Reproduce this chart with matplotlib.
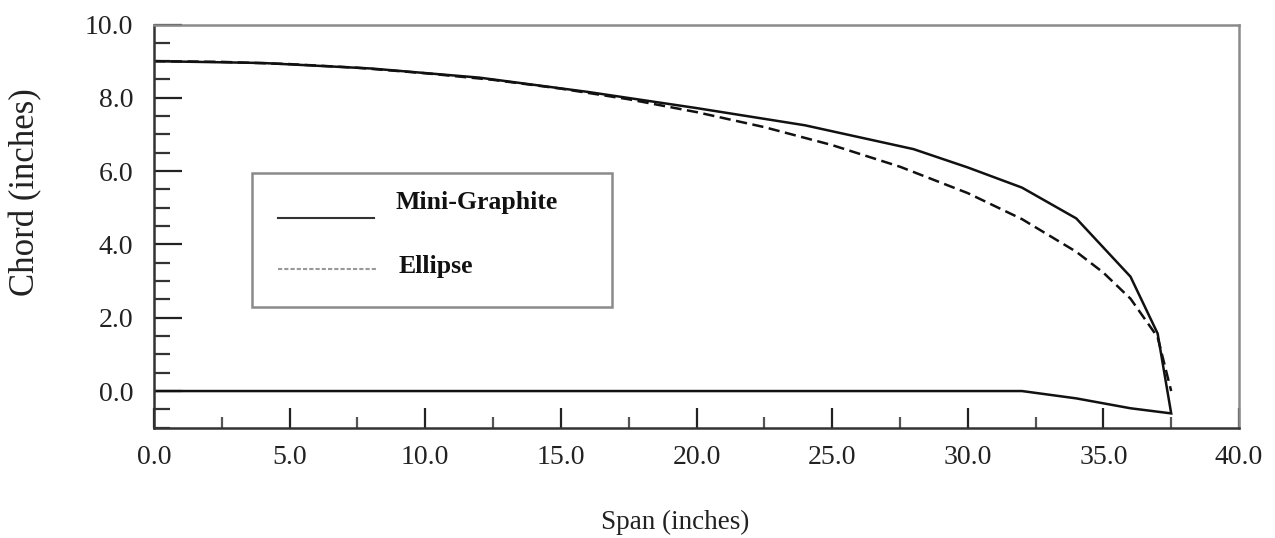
import matplotlib
matplotlib.use("Agg")
import matplotlib.pyplot as plt
from matplotlib.patches import Rectangle
from matplotlib.lines import Line2D
from matplotlib.ticker import MultipleLocator, FormatStrFormatter

# ---- data ----
series_names = ["Mini-Graphite", "Ellipse"]

# Mini-Graphite planform outline: trailing edge (upper) then leading edge (lower) back to root
mg_upper_span = [0.0, 4.0, 8.0, 12.0, 16.0, 20.0, 24.0, 28.0, 30.0, 32.0, 34.0, 36.0, 37.0, 37.5]
mg_upper_chord = [9.0, 8.95, 8.80, 8.55, 8.16, 7.72, 7.25, 6.60, 6.10, 5.55, 4.71, 3.12, 1.57, -0.61]
mg_lower_span = [37.5, 36.0, 34.0, 32.0, 0.0]
mg_lower_chord = [-0.61, -0.47, -0.20, 0.0, 0.0]

ell_span = [0.0, 2.5, 5.0, 7.5, 10.0, 12.5, 15.0, 17.5, 20.0, 22.5, 25.0, 27.5,
            30.0, 32.0, 34.0, 35.0, 36.0, 37.0, 37.5]
ell_chord = [9.00, 8.98, 8.92, 8.82, 8.67, 8.49, 8.25, 7.96, 7.61, 7.20, 6.71, 6.12,
             5.40, 4.69, 3.80, 3.23, 2.52, 1.47, 0.0]

x_ticks = [0.0, 5.0, 10.0, 15.0, 20.0, 25.0, 30.0, 35.0, 40.0]
y_ticks = [0.0, 2.0, 4.0, 6.0, 8.0, 10.0]

plt.rcParams['font.family'] = ['Liberation Serif', 'DejaVu Serif']

W, H = 1275, 538
fig = plt.figure(figsize=(W / 100, H / 100), dpi=100)
L, R, T, B = 154, 1239, 24.5, 427.7
ax = fig.add_axes([L / W, 1 - B / H, (R - L) / W, (B - T) / H])

line_col = '#111111'
ax.plot(mg_upper_span + mg_lower_span[1:], mg_upper_chord + mg_lower_chord[1:],
        color=line_col, lw=1.8, solid_joinstyle='miter')
ax.plot(ell_span, ell_chord, color=line_col, lw=1.8, dashes=(4.5, 2.2))

ax.set_xlim(0, 40)
ax.set_ylim(-1, 10)
ax.set_xticks(x_ticks)
ax.set_yticks(y_ticks)
ax.xaxis.set_major_formatter(FormatStrFormatter('%.1f'))
ax.yaxis.set_major_formatter(FormatStrFormatter('%.1f'))
ax.xaxis.set_minor_locator(MultipleLocator(2.5))
ax.yaxis.set_minor_locator(MultipleLocator(0.5))

ax.tick_params(axis='x', which='major', direction='in', length=14.4, width=1.6,
               color='#222222', labelsize=20, pad=12.5, labelcolor='#222222')
ax.tick_params(axis='x', which='minor', direction='in', length=8, width=1.6,
               color='#555555')
ax.tick_params(axis='y', which='major', direction='in', length=20, width=1.6,
               color='#222222', labelsize=20, pad=15, labelcolor='#222222')
ax.tick_params(axis='y', which='minor', direction='in', length=11.5, width=1.6,
               color='#333333')

for s in ['left', 'bottom']:
    ax.spines[s].set_color('#333333')
    ax.spines[s].set_linewidth(1.8)
for s in ['top', 'right']:
    ax.spines[s].set_color('#8a8a8a')
    ax.spines[s].set_linewidth(1.8)

ax.set_xlabel('Span (inches)', fontsize=19.5, color='#222222')
ax.xaxis.set_label_coords(0.48, -0.234)
ax.xaxis.label.set_va('center')
ax.set_ylabel('Chord (inches)', fontsize=25, color='#222222')
ax.yaxis.set_label_coords(-0.118, 0.585)
ax.yaxis.label.set_va('center')

# ---- legend box (manual, to match the reference layout) ----
def ax_xy(px, py):
    return (px - L) / (R - L), (B - py) / (B - T)

x0, y0 = ax_xy(252, 307)
x1, y1 = ax_xy(612, 173)
ax.add_patch(Rectangle((x0, y0), x1 - x0, y1 - y0, transform=ax.transAxes,
                       fill=False, edgecolor='#8a8a8a', lw=1.8, zorder=5))
lx0, ly0 = ax_xy(278, 218)
lx1, _ = ax_xy(374, 218)
ax.add_line(Line2D([lx0, lx1], [ly0, ly0], transform=ax.transAxes,
                   color='#333333', lw=1.5, zorder=6))
_, ly1 = ax_xy(278, 269)
lx2, _ = ax_xy(376, 269)
ax.add_line(Line2D([lx0, lx2], [ly1, ly1], transform=ax.transAxes,
                   color='#999999', lw=1.5, dashes=(2, 1), zorder=6))
tx0, ty0 = ax_xy(395, 202)
ax.text(tx0, ty0, series_names[0], transform=ax.transAxes, fontsize=18.5,
        fontweight='bold', va='center', ha='left', color='#111111')
tx1, ty1 = ax_xy(399, 266)
ax.text(tx1, ty1, series_names[1], transform=ax.transAxes, fontsize=18.5,
        fontweight='bold', va='center', ha='left', color='#111111')

fig.savefig('out.png', dpi=100)
